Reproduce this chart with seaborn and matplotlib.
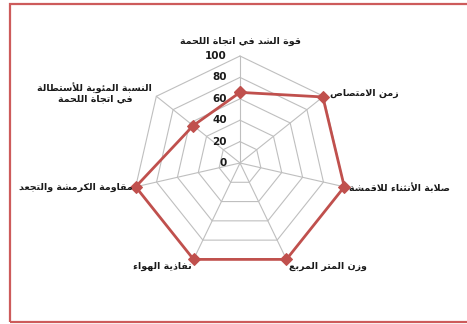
import numpy as np
import pandas as pd
import matplotlib
matplotlib.use("Agg")
import matplotlib.pyplot as plt
import seaborn as sns
from matplotlib.patches import Rectangle

# ---------------- data ----------------
categories = [
    "قوة الشد في اتجاة اللحمة",
    "زمن الامتصاص",
    "صلابة الأنثناء للاقمشة",
    "وزن المتر المربع",
    "نفاذية الهواء",
    "مقاومة الكرمشة والتجعد",
    "النسبة المئوية للأستطالة\nفي اتجاة اللحمة",
]
values = [66, 99, 100, 100, 100, 100, 56]
tick_values = [0, 20, 40, 60, 80, 100]

# ---------------- minimal Arabic shaping (contextual forms, visual order) ----------------
ARABIC = {
    'ء': (0xFE80, 1), 'آ': (0xFE81, 2), 'أ': (0xFE83, 2), 'ؤ': (0xFE85, 2), 'إ': (0xFE87, 2),
    'ئ': (0xFE89, 4), 'ا': (0xFE8D, 2), 'ب': (0xFE8F, 4), 'ة': (0xFE93, 2), 'ت': (0xFE95, 4),
    'ث': (0xFE99, 4), 'ج': (0xFE9D, 4), 'ح': (0xFEA1, 4), 'خ': (0xFEA5, 4), 'د': (0xFEA9, 2),
    'ذ': (0xFEAB, 2), 'ر': (0xFEAD, 2), 'ز': (0xFEAF, 2), 'س': (0xFEB1, 4), 'ش': (0xFEB5, 4),
    'ص': (0xFEB9, 4), 'ض': (0xFEBD, 4), 'ط': (0xFEC1, 4), 'ظ': (0xFEC5, 4), 'ع': (0xFEC9, 4),
    'غ': (0xFECD, 4), 'ف': (0xFED1, 4), 'ق': (0xFED5, 4), 'ك': (0xFED9, 4), 'ل': (0xFEDD, 4),
    'م': (0xFEE1, 4), 'ن': (0xFEE5, 4), 'ه': (0xFEE9, 4), 'و': (0xFEED, 2), 'ى': (0xFEEF, 2),
    'ي': (0xFEF1, 4),
}
LAM_ALEF = {'آ': 0xFEF5, 'أ': 0xFEF7, 'إ': 0xFEF9, 'ا': 0xFEFB}


def shape_line(text):
    tokens = []
    i = 0
    while i < len(text):
        c = text[i]
        if c == 'ل' and i + 1 < len(text) and text[i + 1] in LAM_ALEF:
            tokens.append((LAM_ALEF[text[i + 1]], 2))
            i += 2
            continue
        tokens.append(ARABIC.get(c, (c, 0)))
        i += 1
    out = []
    for k, (b, n) in enumerate(tokens):
        if n == 0:
            out.append(b)
            continue
        prev = tokens[k - 1] if k > 0 else None
        nxt = tokens[k + 1] if k + 1 < len(tokens) else None
        jp = prev is not None and prev[1] == 4
        jn = n == 4 and nxt is not None and nxt[1] >= 2
        if n == 1:
            form = 0
        elif n == 2:
            form = 1 if jp else 0
        else:
            form = {(False, False): 0, (True, False): 1, (False, True): 2, (True, True): 3}[(jp, jn)]
        out.append(chr(b + form))
    return ''.join(out)[::-1]


def shape(text):
    return "\n".join(shape_line(t) for t in text.split("\n"))


# ---------------- style ----------------
sns.set_theme(style="white")
plt.rcParams['font.family'] = ['DejaVu Sans']

RED = "#C0504D"
GRID = "#BFBFBF"

n = len(categories)
theta = np.linspace(0, 2 * np.pi, n, endpoint=False)

fig = plt.figure(figsize=(4.67, 3.24), dpi=100)
fig.patch.set_facecolor("white")

# outer red frame
fig.add_artist(Rectangle((10 / 467, 2 / 324), 470 / 467, 318 / 324, transform=fig.transFigure,
                         fill=False, edgecolor="#CD5B5B", linewidth=1.6))

R = 107
ax = fig.add_axes([(240 - R) / 467, (324 - 163 - R) / 324, 2 * R / 467, 2 * R / 324],
                  projection="polar")
ax.set_theta_offset(np.pi / 2)
ax.set_theta_direction(-1)
ax.set_ylim(0, 100)
ax.grid(False)
ax.spines["polar"].set_visible(False)
ax.set_xticks([])
ax.set_yticks([])
ax.set_facecolor("none")

closed_theta = np.append(theta, theta[0] + 2 * np.pi)

# heptagonal grid
for t in tick_values[1:]:
    ax.plot(closed_theta, [t] * (n + 1), color=GRID, lw=0.8, zorder=1, clip_on=False)
for th in theta:
    ax.plot([th, th], [0, 100], color=GRID, lw=0.8, zorder=1, clip_on=False)

# tick labels on the top spoke
for t in tick_values:
    ax.annotate(str(t), xy=(0, t), xytext=(-13, 0), textcoords="offset pixels",
                ha="right", va="center", fontsize=7.5, fontweight="bold", color="#1a1a1a")

# data series
df = pd.DataFrame({"theta": closed_theta, "value": values + [values[0]]})
sns.lineplot(data=df, x="theta", y="value", ax=ax, sort=False, color=RED, lw=2.0,
             marker="D", markersize=6.5, markeredgecolor=RED, markerfacecolor=RED, zorder=3)
for ln in ax.lines:
    ln.set_clip_on(False)
ax.set_xlabel("")
ax.set_ylabel("")
ax.set_ylim(0, 100)

# category labels
label_specs = [
    ((0, 15), "center", "center"),
    ((6, 3), "left", "center"),
    ((5, -1), "left", "center"),
    ((3, -7), "left", "center"),
    ((-2, -7), "right", "center"),
    ((-3, -1), "right", "center"),
    ((-4, 4), "right", "center"),
]
for th, cat, (off, ha, va) in zip(theta, categories, label_specs):
    ax.annotate(shape(cat), xy=(th, 100), xytext=off, textcoords="offset pixels",
                ha=ha, va=va, multialignment="center", fontsize=6.8, fontweight="bold",
                color="#1a1a1a", linespacing=1.15, annotation_clip=False)

fig.savefig("out.png", dpi=100, facecolor="white")
